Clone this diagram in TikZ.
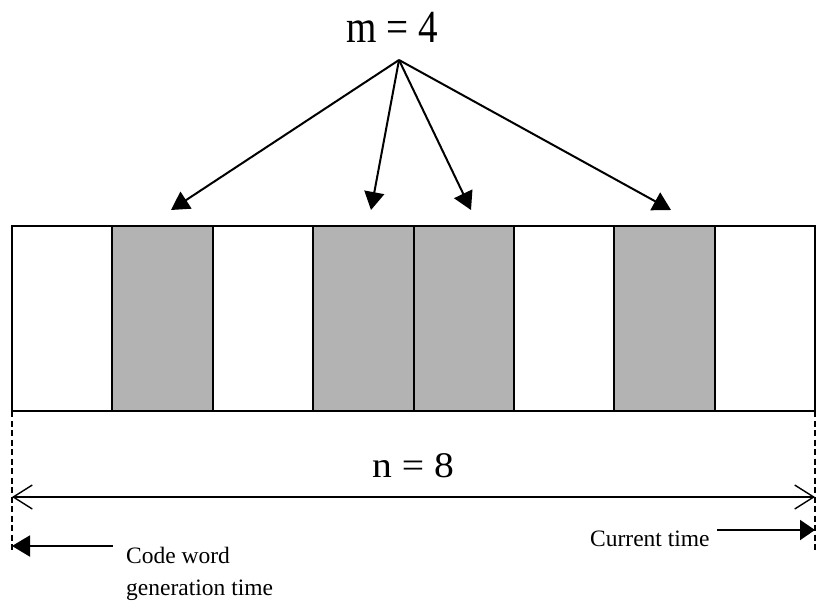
\documentclass[tikz,border=0pt]{standalone}
\usepackage{fontspec}
\usepackage{graphicx}
\setmainfont{Liberation Serif}
\usetikzlibrary{arrows.meta}
\definecolor{cellgray}{RGB}{179,179,179}

\begin{document}
\begin{tikzpicture}[x=1pt,y=-1pt,
  cell/.style={draw=black, line width=2pt, minimum width=100.4pt,
    minimum height=185pt, inner sep=0pt, outer sep=0pt, anchor=north west},
  slot/.style={cell, fill=cellgray},
  pointer/.style={line width=2pt, -{Triangle[length=18pt,width=20pt]}},
  span/.style={line width=1.4pt, {Straight Barb[length=19pt,width=24pt]}-{Straight Barb[length=19pt,width=24pt]}},
  guide/.style={line width=1.4pt, dash pattern=on 6pt off 3.5pt},
  bigtext/.style={anchor=base, inner sep=0pt},
  smalltext/.style={inner sep=0pt, font=\fontsize{23.5}{32}\selectfont}
]
\useasboundingbox (0,0) rectangle (817,614);

% the eight symbol cells of the code word
\node[cell] (c1) at (12,226)    {};
\node[slot] (c2) at (112.4,226) {};
\node[cell] (c3) at (212.8,226) {};
\node[slot] (c4) at (313.1,226) {};
\node[slot] (c5) at (413.5,226) {};
\node[cell] (c6) at (513.9,226) {};
\node[slot] (c7) at (614.3,226) {};
\node[cell] (c8) at (714.6,226) {};

% label for the marked cells and the pointers to them
\node[bigtext] (m) at (392.5,42) {\fontsize{46}{46}\selectfont\scalebox{0.85}[1]{m = 4}};
\coordinate (apex) at (399,60);
\coordinate (t2) at (171,210);
\coordinate (t4) at (371,210);
\coordinate (t5) at (471,210);
\coordinate (t7) at (671,210);
\draw[pointer] (apex) -- (t2);
\draw[pointer] (apex) -- (t4);
\draw[pointer] (apex) -- (t5);
\draw[pointer] (apex) -- (t7);

% dashed guides below the ends of the word
\coordinate (gl) at (12,550);
\coordinate (gr) at (815,550);
\draw[guide] (c1.south west) -- (gl);
\draw[guide] (c8.south east) -- (gr);

% total length
\node[bigtext] (n) at (413,477) {\fontsize{36}{36}\selectfont\scalebox{1.1}[1]{n = 8}};
\coordinate (sl) at (12,497);
\coordinate (sr) at (815,497);
\draw[span] (sl) -- (sr);

% time markers
\node[smalltext, anchor=north west, align=left] (gen) at (126,547) {Code word\\generation time};
\coordinate (gs) at (113,546);
\coordinate (ge) at (12,546);
\draw[line width=2pt, -{Triangle[length=18pt,width=21pt]}] (gs) -- (ge);

\node[smalltext, anchor=base west] (cur) at (590,546) {Current time};
\coordinate (cs) at (717,530);
\coordinate (ce) at (815,530);
\draw[line width=2pt, -{Triangle[length=15pt,width=20pt]}] (cs) -- (ce);
\end{tikzpicture}
\end{document}
